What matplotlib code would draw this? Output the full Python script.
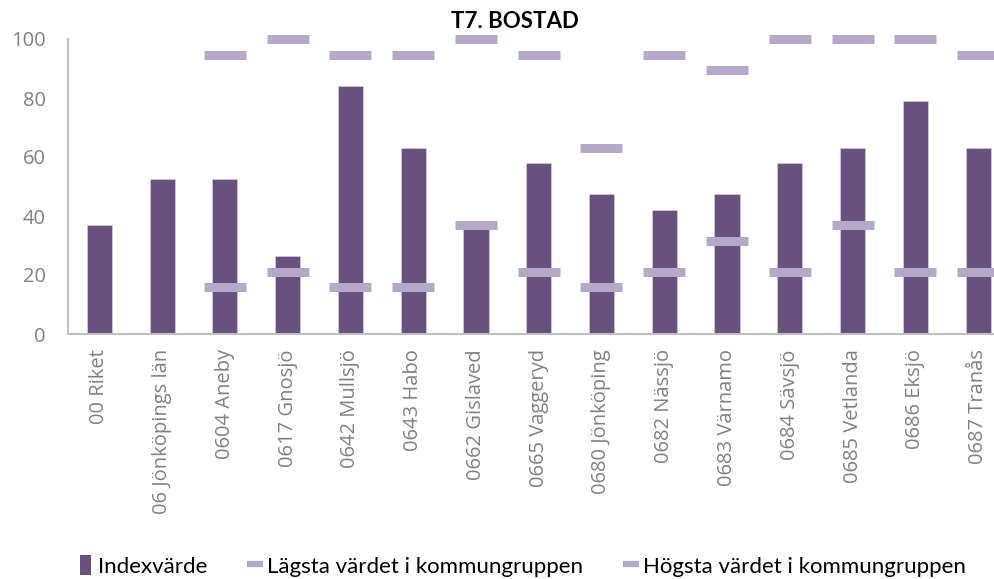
import matplotlib
matplotlib.use("Agg")
import matplotlib.pyplot as plt
from matplotlib.lines import Line2D
from matplotlib.patches import Patch

CATEGORIES = ["00 Riket", "06 Jönköpings län", "0604 Aneby", "0617 Gnosjö",
              "0642 Mullsjö", "0643 Habo", "0662 Gislaved", "0665 Vaggeryd",
              "0680 Jönköping", "0682 Nässjö", "0683 Värnamo", "0684 Sävsjö",
              "0685 Vetlanda", "0686 Eksjö", "0687 Tranås"]
INDEX = [36.8, 52.6, 52.6, 26.3, 84.2, 63.2, 36.8, 57.9,
         47.4, 42.1, 47.4, 57.9, 63.2, 78.9, 63.2]
LOWEST = [None, None, 15.8, 21.1, 15.8, 15.8, 36.8, 21.1,
          15.8, 21.1, 31.6, 21.1, 36.8, 21.1, 21.1]
HIGHEST = [None, None, 94.7, 100, 94.7, 94.7, 100, 94.7,
           63.2, 94.7, 89.5, 100, 100, 100, 94.7]
YTICKS = [0, 20, 40, 60, 80, 100]

BAR_COLOR = "#68517f"
MARK_COLOR = "#b4a9c8"
TEXT_GRAY = "#808080"

plt.rcParams["font.family"] = ["Open Sans", "DejaVu Sans"]


def main():
    fig = plt.figure(figsize=(9.95, 5.79), dpi=100)
    ax = fig.add_axes([68 / 995, 1 - 334 / 579, (995 - 68) / 995, (334 - 39) / 579])

    x = list(range(len(CATEGORIES)))
    ax.bar(x, INDEX, width=0.4, color=BAR_COLOR, edgecolor="#cfc6dc",
           linewidth=0.6, zorder=2)

    # group min / max shown as flat dashes
    lx = [i for i, v in zip(x, LOWEST) if v is not None]
    ly = [v for v in LOWEST if v is not None]
    hx = [i for i, v in zip(x, HIGHEST) if v is not None]
    hy = [v for v in HIGHEST if v is not None]
    for xs, ys in ((lx, ly), (hx, hy)):
        ax.plot(xs, ys, linestyle="none", marker="_", markersize=30,
                markeredgewidth=6.5, color=MARK_COLOR, zorder=3,
                clip_on=False)

    ax.set_xlim(-0.5, 14.27)
    ax.set_ylim(0, 100)
    ax.set_yticks(YTICKS)
    ax.set_xticks(x)
    ax.set_xticklabels(CATEGORIES, rotation=90)
    ax.tick_params(axis="both", length=0, labelsize=14.5, colors=TEXT_GRAY)
    ax.tick_params(axis="y", pad=16)
    ax.tick_params(axis="x", pad=11)

    for side in ("top", "right"):
        ax.spines[side].set_visible(False)
    for side in ("left", "bottom"):
        ax.spines[side].set_color("#bfbfbf")
        ax.spines[side].set_linewidth(1.5)

    fig.text(515 / 995, 1 - 22 / 579, "T7. BOSTAD", ha="center", va="center",
             fontsize=16, fontweight="bold", family=["Lato", "DejaVu Sans"])

    handles = [
        Patch(facecolor=BAR_COLOR, edgecolor="none"),
        Line2D([], [], linestyle="none", marker="_", markersize=11,
               markeredgewidth=4.5, color=MARK_COLOR),
        Line2D([], [], linestyle="none", marker="_", markersize=11,
               markeredgewidth=4.5, color=MARK_COLOR),
    ]
    labels = ["Indexvärde", "Lägsta värdet i kommungruppen",
              "Högsta värdet i kommungruppen"]
    fig.legend(handles, labels, loc="center", bbox_to_anchor=(523 / 995, 1 - 566 / 579),
               ncol=3, frameon=False, handlelength=0.5, handleheight=1.0,
               handletextpad=0.3, columnspacing=1.9,
               prop={"family": ["Lato", "DejaVu Sans"], "size": 16})

    fig.savefig("out.png", dpi=100)


if __name__ == "__main__":
    main()
